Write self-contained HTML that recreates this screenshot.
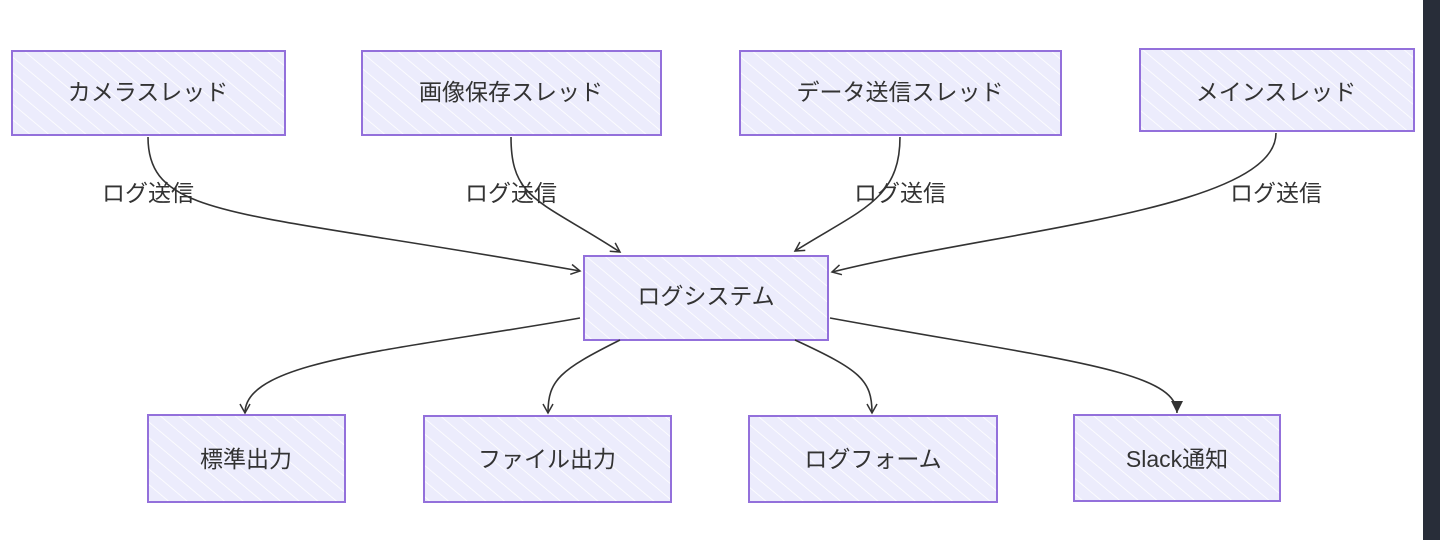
<!DOCTYPE html>
<html><head><meta charset="utf-8"><style>
html,body{margin:0;padding:0;background:#fff;width:1440px;height:548px;overflow:hidden}
text{font-family:"Liberation Sans","Noto Sans CJK JP",sans-serif;font-size:23px;fill:#333}
</style></head><body>
<svg width="1440" height="548" viewBox="0 0 1440 548" xmlns="http://www.w3.org/2000/svg">
<defs>
<pattern id="h" width="12" height="12" patternUnits="userSpaceOnUse" patternTransform="rotate(-50)">
<rect width="12" height="12" fill="#ececfc"/>
<line x1="0" y1="0" x2="0" y2="12" stroke="#fff" stroke-width="1.6"/>
</pattern>
<marker id="a" markerWidth="12" markerHeight="12" refX="10" refY="6" orient="auto" markerUnits="userSpaceOnUse">
<path d="M1,1 L10,6 L1,11" fill="none" stroke="#333" stroke-width="1.5"/>
</marker>
<marker id="f" markerWidth="14" markerHeight="14" refX="12" refY="7" orient="auto" markerUnits="userSpaceOnUse">
<path d="M0,1 L12,7 L0,13 Z" fill="#333"/>
</marker>
</defs>
<rect x="1423" y="0" width="17" height="540" fill="#282d39"/>
<g fill="url(#h)" stroke="#9370DB" stroke-width="2">
<rect x="12" y="51" width="273" height="84"/>
<rect x="362" y="51" width="299" height="84"/>
<rect x="740" y="51" width="321" height="84"/>
<rect x="1140" y="49" width="274" height="82"/>
<rect x="584" y="256" width="244" height="84"/>
<rect x="148" y="415" width="197" height="87"/>
<rect x="424" y="416" width="247" height="86"/>
<rect x="749" y="416" width="248" height="86"/>
<rect x="1074" y="415" width="206" height="86"/>
</g>
<g fill="none" stroke="#333" stroke-width="1.6">
<path d="M148,137 C148,220 240,210 580,271" marker-end="url(#a)"/>
<path d="M511,137 C511,200 540,200 620,252" marker-end="url(#a)"/>
<path d="M900,137 C900,200 860,210 795,251" marker-end="url(#a)"/>
<path d="M1276,133 C1276,210 1000,230 832,272" marker-end="url(#a)"/>
<path d="M580,318 C400,350 245,360 245,413" marker-end="url(#a)"/>
<path d="M620,340 C560,370 548,380 548,413" marker-end="url(#a)"/>
<path d="M795,340 C860,370 872,380 872,413" marker-end="url(#a)"/>
<path d="M830,318 C1060,360 1177,370 1177,413" marker-end="url(#f)"/>
</g>
<g text-anchor="middle">
<text x="148" y="100">カメラスレッド</text>
<text x="511" y="100">画像保存スレッド</text>
<text x="900" y="100">データ送信スレッド</text>
<text x="1276" y="100">メインスレッド</text>
<text x="706" y="304">ログシステム</text>
<text x="246" y="467">標準出力</text>
<text x="547" y="467">ファイル出力</text>
<text x="873" y="467">ログフォーム</text>
<text x="1177" y="467">Slack通知</text>
<text x="148" y="201">ログ送信</text>
<text x="511" y="201">ログ送信</text>
<text x="900" y="201">ログ送信</text>
<text x="1276" y="201">ログ送信</text>
</g>
</svg>
</body></html>
